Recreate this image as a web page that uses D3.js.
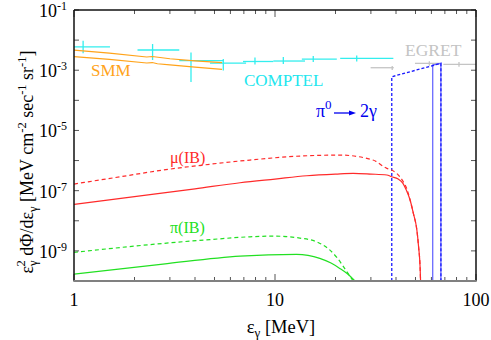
<!DOCTYPE html>
<html><head><meta charset="utf-8">
<script src="https://cdn.jsdelivr.net/npm/d3@7"></script>
<style>body{margin:0;background:#fff}svg{display:block}</style>
</head><body><svg id="c" width="491" height="340"></svg>
<script>
// ---- data (E in MeV, values in MeV cm^-2 s^-1 sr^-1) ----
const xTicksMajor = [1, 10, 100];
const xTickLabels = ["1", "10", "100"];
const yTickExps = [-1, -3, -5, -7, -9];

const muIBSolid = [[1,3.51e-8],[2,6.35e-8],[4,1.15e-7],[6.7,1.83e-7],[10,2.43e-7],[14.4,3.13e-7],[20,3.56e-7],[24.5,3.76e-7],[30,3.56e-7],[36,3.31e-7],[38,2.9e-7],[41,2.43e-7],[43.3,1.75e-7],[45,1.05e-7],[47,4.9e-8],[48.8,1.76e-8],[50.8,4.9e-9],[51.8,1.38e-9],[52.7,2.95e-10],[53,1e-10]];
const muIBDashed = [[1,1.66e-7],[1.69,2.88e-7],[2.77,4.83e-7],[4.74,7.53e-7],[7.5,1.04e-6],[13.3,1.41e-6],[21,1.52e-6],[30.7,1.04e-6],[36,5.51e-7],[38,4.83e-7],[40.3,3.76e-7],[43.5,1.98e-7],[45.2,1.19e-7],[47,4.9e-8],[48.8,1.76e-8],[50.8,4.9e-9],[51.8,1.38e-9],[52.7,2.95e-10],[53,1e-10]];
const piIBSolid = [[1,1.69e-10],[2.77,3.63e-10],[6.7,6.71e-10],[12.8,7.66e-10],[16.7,5.64e-10],[19,3.94e-10],[21,2.62e-10],[23,1.7e-10],[25,1e-10]];
const piIBDashed = [[1,8.91e-10],[2.77,1.77e-9],[4.74,2.37e-9],[7.5,2.94e-9],[9.8,3.1e-9],[13.3,2.66e-9],[16.1,2.0e-9],[18.5,1.15e-9],[20.3,6.08e-10],[22.5,2.3e-10],[24.5,1e-10]];
const pi0Dashed = [[38.1,1e-10],[38.1,6.08e-4],[66.9,1.69e-3],[66.9,1e-10]];
const pi0Solid = [[60.9,1e-10],[60.9,1.49e-3],[66.9,1.69e-3],[66.9,1e-10]];
const smmUpper = [[1,4.68e-3],[1.5,3.72e-3],[2.3,2.75e-3],[2.45,2.85e-3],[3,2.4e-3],[4,2.04e-3],[5.45,1.78e-3]];
const smmLower = [[1,2.82e-3],[1.5,2.29e-3],[2.3,1.74e-3],[2.45,1.8e-3],[2.6,1.64e-3],[3,1.51e-3],[4,1.26e-3],[5.45,1.07e-3]];
// [E, Elo, Ehi, v, vlo, vhi]
const comptel = [[1.11,0.8,1.51,6.0e-3,3.64e-3,9.55e-3],[2.46,2.07,3.34,4.69e-3,2.18e-3,7.41e-3],[3.82,3.34,5.53,2.07e-3,4.06e-4,3.87e-3],[5.53,4.75,7.18,1.73e-3,9.8e-4,2.35e-3],[7.95,6.93,9.81,1.95e-3,1.55e-3,2.64e-3],[11.0,9.81,14.1,2.02e-3,1.61e-3,2.75e-3],[15.5,13.6,20.3,2.35e-3,1.87e-3,2.96e-3],[25.5,21.1,38.8,2.48e-3,1.95e-3,3.08e-3]];
const egret = [[38.3,29.9,39.0,1.21e-3,1.02e-3,1.38e-3],[58.6,49.7,66.2,1.69e-3,1.42e-3,1.99e-3],[82.3,68.8,130,1.57e-3,1.3e-3,1.87e-3]];

// ---- layout ----
const FONT = "'Liberation Serif','Times New Roman',Times,serif";
const W = 491, H = 340, m = {l:74, r:15, t:10, b:59};
const svg = d3.select("#c").attr("font-family", FONT);
const x = d3.scaleLog().domain([1,100]).range([m.l, W-m.r]);
const y = d3.scaleLog().domain([1e-10,1e-1]).range([H-m.b, m.t]);

svg.append("defs").append("clipPath").attr("id","clip").append("rect")
  .attr("x",m.l).attr("y",m.t).attr("width",W-m.l-m.r).attr("height",H-m.t-m.b);
const g = svg.append("g").attr("clip-path","url(#clip)");

const lineSmooth = d3.line().x(d=>x(d[0])).y(d=>y(d[1])).curve(d3.curveMonotoneX);
const lineStraight = d3.line().x(d=>x(d[0])).y(d=>y(d[1]));

const C = {red:"#ff2a2a", green:"#22e022", blue:"#1a1aff", blueL:"#6a6aff", cyan:"#33eeee", orange:"#ffa31a", gray:"#c4c4c4"};

function crosses(data, color){
  data.forEach(d=>{
    g.append("line").attr("x1",x(d[1])).attr("x2",x(d[2])).attr("y1",y(d[3])).attr("y2",y(d[3])).attr("stroke",color).attr("stroke-width",1.3);
    g.append("line").attr("x1",x(d[0])).attr("x2",x(d[0])).attr("y1",y(d[4])).attr("y2",y(d[5])).attr("stroke",color).attr("stroke-width",1.3);
  });
}
crosses(comptel, C.cyan);
crosses(egret, C.gray);

g.append("path").datum(smmUpper).attr("d",lineStraight).attr("fill","none").attr("stroke",C.orange).attr("stroke-width",1.2);
g.append("path").datum(smmLower).attr("d",lineStraight).attr("fill","none").attr("stroke",C.orange).attr("stroke-width",1.2);

g.append("path").datum(pi0Solid).attr("d",lineStraight).attr("fill","none").attr("stroke",C.blueL).attr("stroke-width",1.3);
g.append("path").datum(pi0Dashed).attr("d",lineStraight).attr("fill","none").attr("stroke",C.blue).attr("stroke-width",1.3).attr("stroke-dasharray","3,2");

g.append("path").datum(muIBSolid).attr("d",lineSmooth).attr("fill","none").attr("stroke",C.red).attr("stroke-width",1.2);
g.append("path").datum(muIBDashed).attr("d",lineSmooth).attr("fill","none").attr("stroke",C.red).attr("stroke-width",1.2).attr("stroke-dasharray","4,3");
g.append("path").datum(piIBSolid).attr("d",lineSmooth).attr("fill","none").attr("stroke",C.green).attr("stroke-width",1.2);
g.append("path").datum(piIBDashed).attr("d",lineSmooth).attr("fill","none").attr("stroke",C.green).attr("stroke-width",1.2).attr("stroke-dasharray","4,3");

// ---- frame & ticks ----
const x0 = m.l, x1 = W-m.r, y0 = H-m.b, y1 = m.t;
const minorX = [];
[1,10].forEach(b=>{for(let k=2;k<=9;k++) minorX.push(b*k);});
const fr = svg.append("g");
minorX.forEach(v=>{
  fr.append("line").attr("x1",x(v)).attr("x2",x(v)).attr("y1",y0).attr("y2",y0-4).attr("stroke","#555").attr("stroke-width",1);
  fr.append("line").attr("x1",x(v)).attr("x2",x(v)).attr("y1",y1).attr("y2",y1+4).attr("stroke","#555").attr("stroke-width",1);
});
xTicksMajor.forEach(v=>{
  fr.append("line").attr("x1",x(v)).attr("x2",x(v)).attr("y1",y0).attr("y2",y0-7).attr("stroke","#555").attr("stroke-width",1);
  fr.append("line").attr("x1",x(v)).attr("x2",x(v)).attr("y1",y1).attr("y2",y1+7).attr("stroke","#555").attr("stroke-width",1);
});
for(let e=-10;e<=-1;e++){
  const yy = y(Math.pow(10,e));
  fr.append("line").attr("x1",x0).attr("x2",x0+5).attr("y1",yy).attr("y2",yy).attr("stroke","#555").attr("stroke-width",1);
  fr.append("line").attr("x1",x1).attr("x2",x1-5).attr("y1",yy).attr("y2",yy).attr("stroke","#555").attr("stroke-width",1);
}
fr.append("line").attr("x1",x0).attr("x2",x1).attr("y1",y1).attr("y2",y1).attr("stroke","#111").attr("stroke-width",1.5);
fr.append("line").attr("x1",x1).attr("x2",x1).attr("y1",y1).attr("y2",y0).attr("stroke","#111").attr("stroke-width",1.5);
fr.append("line").attr("x1",x0).attr("x2",x0).attr("y1",y1).attr("y2",y0).attr("stroke","#111").attr("stroke-width",1.5);
fr.append("line").attr("x1",x0-0.7).attr("x2",x1+0.7).attr("y1",y0).attr("y2",y0).attr("stroke","#808080").attr("stroke-width",2);

// tick labels
xTicksMajor.forEach((v,i)=>{
  svg.append("text").attr("x",x(v)).attr("y",306).attr("text-anchor","middle").attr("font-size",18).attr("fill","#000").text(xTickLabels[i]);
});
yTickExps.forEach(e=>{
  const t = svg.append("text").attr("x",67).attr("y",y(Math.pow(10,e))+7).attr("text-anchor","end").attr("font-size",18).attr("fill","#000");
  t.append("tspan").text("10");
  t.append("tspan").attr("dy",-7).attr("font-size",12).text(String(e));
});

// axis titles
const xt = svg.append("text").attr("x",281).attr("y",333).attr("text-anchor","middle").attr("font-size",18.5).attr("fill","#000");
xt.append("tspan").text("ε");
xt.append("tspan").attr("dy",4).attr("font-size",13).text("γ");
xt.append("tspan").attr("dy",-4).text(" [MeV]");

const yt = svg.append("text").attr("transform","translate(33,162) rotate(-90)").attr("text-anchor","middle").attr("font-size",18).attr("fill","#000");
yt.append("tspan").text("ε");
yt.append("tspan").attr("dy",4).attr("font-size",12.5).text("γ");
yt.append("tspan").attr("dy",-12).attr("dx",-6).attr("font-size",12.5).text("2");
yt.append("tspan").attr("dy",8).text(" dΦ/dε");
yt.append("tspan").attr("dy",4).attr("font-size",12.5).text("γ");
yt.append("tspan").attr("dy",-4).text(" [MeV cm");
yt.append("tspan").attr("dy",-7).attr("font-size",12.5).text("-2");
yt.append("tspan").attr("dy",7).text(" sec");
yt.append("tspan").attr("dy",-7).attr("font-size",12.5).text("-1");
yt.append("tspan").attr("dy",7).text(" sr");
yt.append("tspan").attr("dy",-7).attr("font-size",12.5).text("-1");
yt.append("tspan").attr("dy",7).text("]");

// annotations
svg.append("text").attr("x",91).attr("y",76).attr("font-size",17).attr("fill",C.orange).text("SMM");
svg.append("text").attr("x",244).attr("y",86).attr("font-size",17).attr("fill","#22e6ee").text("COMPTEL");
svg.append("text").attr("x",405).attr("y",56).attr("font-size",17.5).attr("fill",C.gray).text("EGRET");
svg.append("text").attr("x",170).attr("y",163).attr("font-size",16).attr("fill",C.red).text("μ(IB)");
svg.append("text").attr("x",170).attr("y",233).attr("font-size",16).attr("fill",C.green).text("π(IB)");
const pl = svg.append("text").attr("x",316).attr("y",117).attr("font-size",18).attr("fill","#0000ee");
pl.append("tspan").text("π");
pl.append("tspan").attr("dy",-8).attr("font-size",13).text("0");
pl.append("tspan").attr("x",360).attr("dy",8).text("2γ");
svg.append("line").attr("x1",334).attr("x2",350).attr("y1",113).attr("y2",113).attr("stroke","#0000ee").attr("stroke-width",1.3);
svg.append("path").attr("d","M349,110.5 L356,113 L349,115.5 Z").attr("fill","#0000ee");
</script></body></html>
